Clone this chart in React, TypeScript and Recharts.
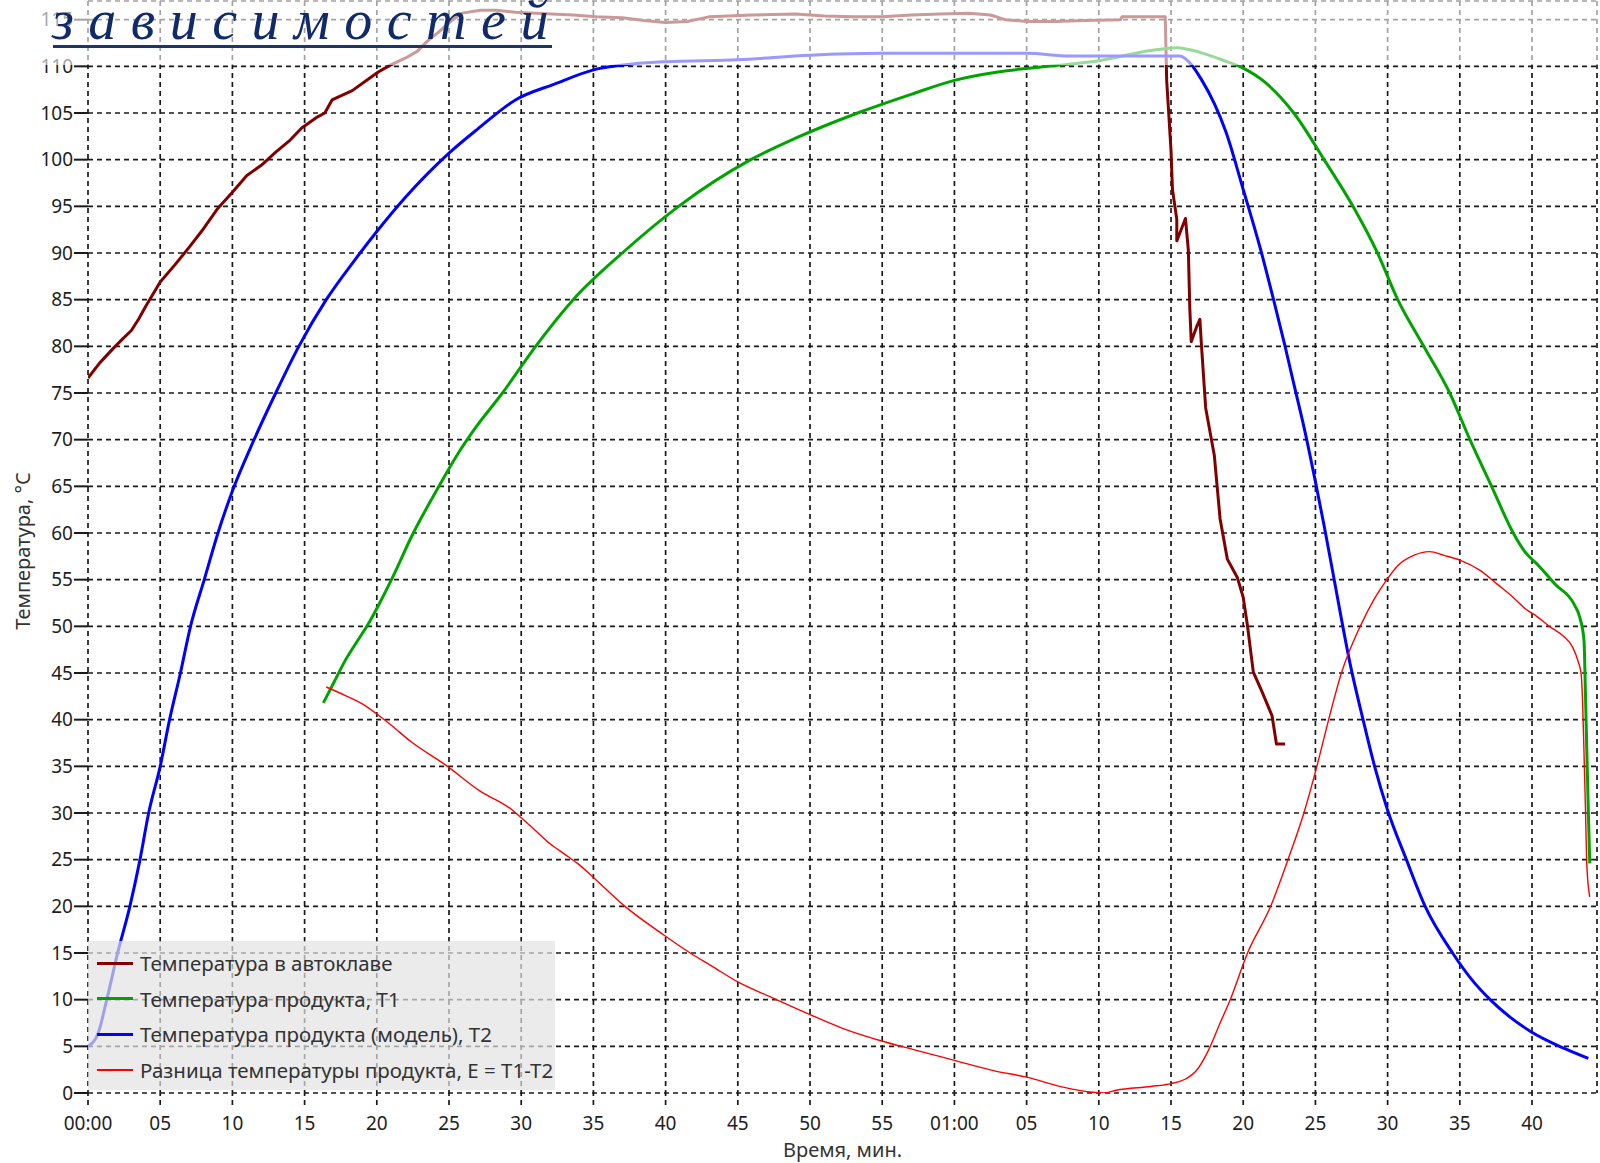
import { LineChart, Line, XAxis, YAxis, CartesianGrid } from 'recharts'

// time in minutes, temperature in °C
const autoclave: [number, number][] = [
  [0, 76.6], [0.8, 78.2], [1.7, 79.7], [2.4, 80.8], [3, 81.7], [3.5, 82.9], [4, 84.3], [5, 86.9],
  [6, 88.7], [7, 90.6], [8, 92.6], [9, 94.8], [10, 96.5], [11, 98.3], [12, 99.4], [13, 100.8],
  [14, 102.1], [14.8, 103.4], [15.8, 104.5], [16.4, 105], [16.9, 106.4], [18.3, 107.4], [19.3, 108.5],
  [20.1, 109.4], [20.9, 110.1], [22, 110.9], [22.8, 111.6], [23.5, 112.7], [24.3, 113.7], [25.1, 114.8],
  [25.9, 115.7], [27.2, 116], [28.3, 116], [29.6, 115.8], [31, 115.7], [33.6, 115.5], [35.2, 115.3],
  [37, 115.2], [38.5, 114.9], [40, 114.7], [41.5, 114.8], [43, 115.3], [46, 115.5], [49, 115.6],
  [51, 115.4], [53, 115.3], [55, 115.3], [57, 115.5], [59, 115.6], [61, 115.7], [62.5, 115.5],
  [63.5, 115], [65, 114.8], [67, 114.8], [69, 114.9], [71.5, 115], [71.6, 115.3], [74.6, 115.3],
  [74.7, 108.5], [75, 101], [75.1, 96.8], [75.4, 93.6], [75.4, 91.3], [75.7, 92.5], [76, 93.7],
  [76.2, 90.3], [76.3, 84.1], [76.4, 80.5], [76.8, 82.2], [77, 82.9], [77.1, 80.3], [77.4, 73.4],
  [78, 68.3], [78.4, 61.5], [78.9, 57.2], [79.6, 55.2], [80, 53.1], [80.3, 50], [80.7, 45.1],
  [81.3, 43], [82, 40.4], [82.3, 37.4], [82.9, 37.4],
]

const productT1: [number, number][] = [
  [16.3, 41.8], [17, 43.9], [17.8, 46.3], [18.6, 48.3], [19.5, 50.5], [20.3, 52.8], [21.2, 55.6],
  [22.4, 59.6], [24.3, 65], [25.5, 68.2], [26.8, 71.2], [28.7, 75], [31, 80], [33.6, 85], [37, 90],
  [40.9, 95], [45.9, 100], [49, 102.3], [53.3, 105], [57, 107], [60, 108.5], [63, 109.4], [66.5, 110],
  [70, 110.6], [73.6, 111.7], [75.4, 112], [77, 111.5], [78.7, 110.6], [80, 109.8], [81.5, 108.3],
  [83.5, 105], [85.6, 100], [87.6, 95], [89.3, 90], [90.7, 85], [92.5, 80], [94.3, 75], [95.7, 70],
  [97.2, 65], [98.7, 60], [99.5, 58], [100.4, 56.6], [101.6, 54.5], [102.9, 52.4], [103.3, 51],
  [103.6, 48.5], [103.7, 42.8], [103.8, 36.3], [103.9, 30.2], [104, 24.6],
]

const modelT2: [number, number][] = [
  [0, 5], [0.7, 6.4], [1.3, 10], [2.05, 15], [2.9, 20], [3.6, 25], [4.2, 30], [5, 35], [5.65, 40],
  [6.4, 45], [7.1, 50], [8.05, 55], [9, 60], [10, 64.5], [11.5, 70], [13, 75], [14.6, 80], [16.5, 85],
  [18.5, 89.3], [20, 92.3], [22, 96], [25, 100.7], [27, 103.3], [29.6, 106.4], [32.3, 108.1],
  [35.2, 109.7], [38, 110.3], [40, 110.5], [45, 110.7], [50, 111.2], [55, 111.4], [60, 111.4],
  [65, 111.4], [68, 111.1], [75.6, 111.1], [76.4, 110.2], [77.1, 108.6], [78, 106], [78.8, 103],
  [80, 96.8], [81.2, 90.4], [82.1, 85], [82.9, 80], [83.5, 76], [84.2, 71.4], [85, 65.5],
  [85.6, 60.8], [86.3, 55], [86.8, 50.8], [87.4, 46], [88.3, 40], [89.1, 35], [90, 30.3], [91.3, 25],
  [92.6, 20], [94.5, 15], [95.8, 12.2], [97.1, 10], [98.5, 8.1], [99.9, 6.6], [102.2, 4.8], [103.9, 3.7],
]

const diffE: [number, number][] = [
  [16.5, 43.5], [17.8, 42.6], [19, 41.7], [20.1, 40.5], [21, 39.4], [22.4, 37.6], [24.8, 35.1],
  [27.1, 32.4], [29.4, 30.3], [30, 29.5], [31, 28.1], [32, 26.7], [33, 25.6], [33.9, 24.6], [35, 23.1],
  [37.1, 20.1], [39.9, 16.9], [41.7, 15], [43.2, 13.6], [45, 11.9], [47.4, 10.2], [50, 8.4], [52.3, 6.9],
  [54.9, 5.6], [57.3, 4.6], [60, 3.5], [62.7, 2.4], [65, 1.7], [67.6, 0.6], [69.4, 0.1], [70.4, 0],
  [71.2, 0.3], [73.6, 0.7], [75, 1], [76, 1.5], [76.7, 2.3], [77.6, 4.6], [78.4, 7.5], [79.1, 10],
  [80.3, 15], [81.9, 20], [83.1, 25], [84.2, 30], [85.1, 35], [85.9, 39.9], [86.8, 45], [88.1, 50],
  [89.1, 53], [89.9, 54.9], [90.7, 56.5], [91.8, 57.6], [92.9, 58], [93.9, 57.6], [95, 57.1], [96.4, 56],
  [97.6, 54.5], [98.7, 53.1], [99.6, 51.8], [100.3, 51.1], [101.2, 50], [102.2, 48.9], [102.8, 47.8],
  [103.2, 46.2], [103.4, 44.9], [103.5, 42], [103.6, 36.5], [103.7, 30.5], [103.8, 24.3], [104, 21],
]

const xTicks = [0, 5, 10, 15, 20, 25, 30, 35, 40, 45, 50, 55, 60, 65, 70, 75, 80, 85, 90, 95, 100]
const xTickLabels = ['00:00', '05', '10', '15', '20', '25', '30', '35', '40', '45', '50', '55',
  '01:00', '05', '10', '15', '20', '25', '30', '35', '40']
const yTicks = [0, 5, 10, 15, 20, 25, 30, 35, 40, 45, 50, 55, 60, 65, 70, 75, 80, 85, 90, 95, 100, 105, 110, 115]

const series = [
  { name: 'Температура в автоклаве', color: '#800000', width: 3, curve: 'linear', points: autoclave },
  { name: 'Температура продукта, T1', color: '#00a400', width: 3, curve: 'monotone', points: productT1 },
  { name: 'Температура продукта (модель), T2', color: '#0000ff', width: 3, curve: 'monotone', points: modelT2 },
  { name: 'Разница температуры продукта, E = T1-T2', color: '#ff0000', width: 1.4, curve: 'monotone', points: diffE },
]

const FONT = '"Noto Sans", sans-serif'
const TICK = { fontSize: 19, fill: '#1e1e1e', fontFamily: FONT }

export default function App() {
  return (
    <div style={{ position: 'absolute', left: 0, top: 0, width: 1600, height: 1163, overflow: 'hidden', background: '#fff', fontFamily: FONT }}>
      <LineChart width={1600} height={1163} margin={{ top: 1, right: 3, bottom: 0, left: 0 }}>
        <CartesianGrid stroke="#1a1a1a" strokeWidth={1.7} strokeDasharray="5 4" />
        <XAxis type="number" dataKey="t" domain={[0, 104.5]} ticks={xTicks} allowDataOverflow
          tickFormatter={(v: number) => xTickLabels[xTicks.indexOf(v)]}
          tick={TICK} tickSize={12} tickMargin={12} height={70} axisLine={false}
          tickLine={{ stroke: '#1a1a1a', strokeWidth: 1.7, strokeDasharray: '5 4' }}
          label={{ value: 'Время, мин.', position: 'insideBottom', offset: 6, fontSize: 20, fill: '#333', fontFamily: FONT }} />
        <YAxis type="number" domain={[0, 117]} ticks={yTicks} allowDataOverflow width={88}
          tick={TICK} tickSize={14} tickMargin={1} axisLine={false}
          tickLine={{ stroke: '#1a1a1a', strokeWidth: 2 }} />
        {series.map(s => (
          <Line key={s.name} data={s.points.map(([t, v]) => ({ t, v }))} dataKey="v" type={s.curve as any}
            stroke={s.color} strokeWidth={s.width} dot={false} strokeLinejoin="round"
            isAnimationActive={false} />
        ))}
      </LineChart>

      {/* faded strip under the slide title */}
      <div style={{ position: 'absolute', left: 0, top: 0, width: 1600, height: 65, background: 'rgba(255,255,255,0.6)' }} />
      <div style={{ position: 'absolute', left: 52, top: -8, fontFamily: '"Liberation Serif", serif', fontStyle: 'italic',
        fontSize: 56, lineHeight: '56px', letterSpacing: 14.5, color: '#102a6a', whiteSpace: 'nowrap' }}>зависимостей</div>
      <div style={{ position: 'absolute', left: 53, top: 45, width: 499, height: 3, background: '#1b3570' }} />

      <div style={{ position: 'absolute', left: 22, top: 551, transform: 'translate(-50%, -50%) rotate(-90deg)',
        fontSize: 20, color: '#333', whiteSpace: 'nowrap' }}>Температура, °C</div>

      <div style={{ position: 'absolute', left: 88, top: 941, width: 467, height: 149, background: 'rgba(227,227,227,0.7)' }}>
        {series.map((s, i) => (
          <div key={s.name} style={{ position: 'absolute', left: 9, top: 11 + i * 35.6, height: 22, display: 'flex', alignItems: 'center' }}>
            <div style={{ width: 36, height: s.width >= 2 ? 3 : 1.5, background: s.color }} />
            <span style={{ marginLeft: 7, fontSize: 20.5, color: '#333' }}>{s.name}</span>
          </div>
        ))}
      </div>
    </div>
  )
}
